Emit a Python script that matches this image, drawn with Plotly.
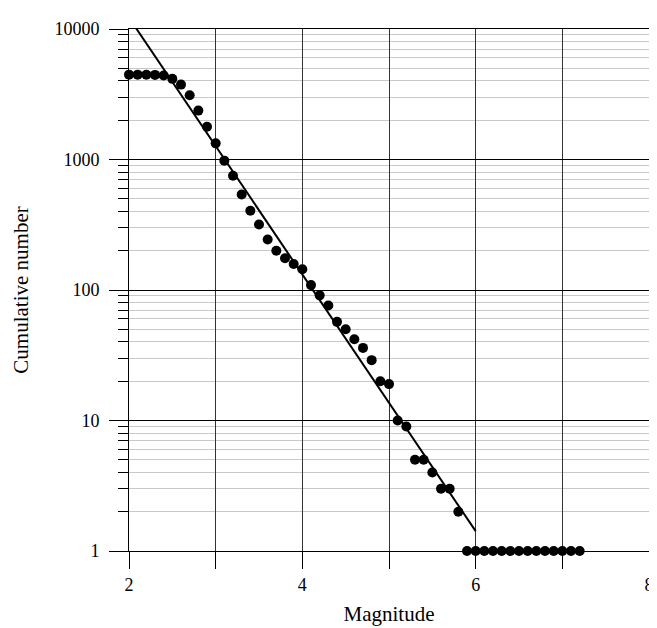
import plotly.graph_objects as go

magnitude = [2.0, 2.1, 2.2, 2.3, 2.4, 2.5, 2.6, 2.7, 2.8, 2.9,
             3.0, 3.1, 3.2, 3.3, 3.4, 3.5, 3.6, 3.7, 3.8, 3.9,
             4.0, 4.1, 4.2, 4.3, 4.4, 4.5, 4.6, 4.7, 4.8, 4.9,
             5.0, 5.1, 5.2, 5.3, 5.4, 5.5, 5.6, 5.7, 5.8, 5.9,
             6.0, 6.1, 6.2, 6.3, 6.4, 6.5, 6.6, 6.7, 6.8, 6.9,
             7.0, 7.1, 7.2]
cumulative = [4470, 4470, 4460, 4450, 4400, 4150, 3750, 3110, 2370, 1780,
              1330, 980, 750, 540, 405, 318, 244, 200, 175, 158,
              144, 109, 91, 76, 57, 50, 42, 36, 29, 20,
              19, 10, 9, 5, 5, 4, 3, 3, 2, 1,
              1, 1, 1, 1, 1, 1, 1, 1, 1, 1,
              1, 1, 1]

fit_x = [2.0, 6.0]
fit_y = [12200, 1.42]

x_ticks = [2, 3, 4, 5, 6, 7, 8]
x_ticktext = ["2", "", "4", "", "6", "", "8"]
y_ticks = [1, 10, 100, 1000, 10000]
y_ticktext = ["1", "10", "100", "1000", "10000"]
y_minor = [m * 10 ** e for e in range(4) for m in range(2, 10)]

font = "Liberation Serif, Times New Roman, serif"

fig = go.Figure()
fig.add_trace(go.Scatter(x=fit_x, y=fit_y, mode="lines",
                         line=dict(color="black", width=2), showlegend=False))
fig.add_trace(go.Scatter(x=magnitude, y=cumulative, mode="markers",
                         marker=dict(color="black", size=10),
                         cliponaxis=False, showlegend=False))

fig.update_layout(
    width=657, height=628,
    margin=dict(l=121, r=11, t=17, b=85),
    plot_bgcolor="white", paper_bgcolor="white",
    font=dict(family=font, size=18, color="black"),
    xaxis=dict(
        range=[2, 8], tickvals=x_ticks, ticktext=x_ticktext,
        ticks="outside", ticklen=17, tickcolor="black",
        tickfont=dict(size=18),
        showgrid=True, gridcolor="#333333", gridwidth=1,
        showline=True, linecolor="black", mirror=True,
        zeroline=False,
        title=dict(text="Magnitude", standoff=12, font=dict(size=21)),
    ),
    yaxis=dict(
        type="log", range=[0, 4], tickvals=y_ticks, ticktext=y_ticktext,
        ticks="outside", ticklen=19, tickcolor="black",
        tickfont=dict(size=18), ticklabelstandoff=6,
        showgrid=True, gridcolor="black", gridwidth=1,
        showline=True, linecolor="black", mirror=True,
        zeroline=False,
        minor=dict(tickvals=y_minor, ticks="outside", ticklen=10,
                   tickcolor="black", showgrid=True, gridcolor="#c8c8c8"),
        title=dict(text="Cumulative number", standoff=20, font=dict(size=21)),
    ),
)

fig.write_html("out.html")
